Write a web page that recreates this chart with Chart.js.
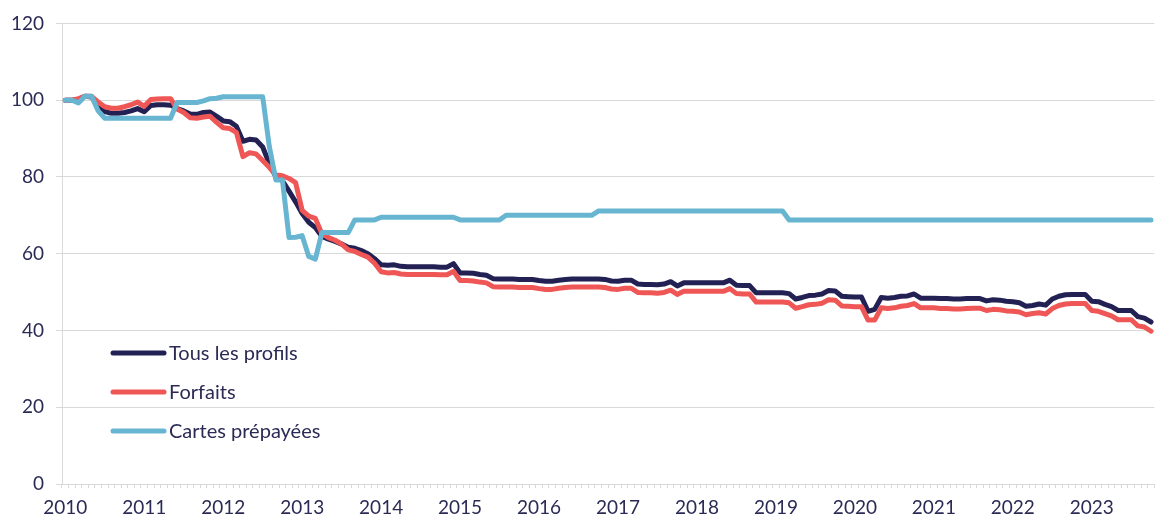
<!DOCTYPE html>
<html>
<head>
<meta charset="utf-8">
<script src="https://cdn.jsdelivr.net/npm/chart.js@4/dist/chart.umd.min.js"></script>
<style>
body { margin: 0; background: #fff; }
#wrap { width: 1159px; height: 520px; }
</style>
</head>
<body>
<div id="wrap"><canvas id="chart"></canvas></div>
<script>
const years = [2010, 2011, 2012, 2013, 2014, 2015, 2016, 2017, 2018, 2019, 2020, 2021, 2022, 2023]
const lastMonth = 10
const seriesNames = ['Tous les profils', 'Forfaits', 'Cartes prépayées']

const tousProfils = [
    100, 100, 100.2, 101, 100.8, 98.5, 97, 96.6, 96.6, 96.8, 97.2, 97.8,
    97, 98.6, 98.8, 98.8, 98.7, 97.8, 97.2, 96.4, 96.3, 96.8, 96.9, 95.8,
    94.6, 94.4, 93.2, 89.3, 89.8, 89.6, 87.8, 83.5, 80, 79, 76.3, 73.5,
    70.5, 68.2, 66.8, 64.5, 63.8, 63.2, 62.5, 61.7, 61.4, 60.8, 60, 58.7,
    57.1, 57, 57.1, 56.7, 56.6, 56.6, 56.6, 56.6, 56.6, 56.5, 56.5, 57.4,
    55, 55, 54.9, 54.6, 54.4, 53.5, 53.4, 53.4, 53.4, 53.3, 53.3, 53.3,
    53, 52.8, 52.8, 53.1, 53.3, 53.4, 53.4, 53.4, 53.4, 53.4, 53.3, 52.9,
    52.8, 53.1, 53.1, 52.1, 52, 52, 51.9, 52.1, 52.7, 51.6, 52.4, 52.4,
    52.4, 52.4, 52.4, 52.4, 52.4, 53.1, 51.8, 51.7, 51.7, 49.8, 49.8, 49.8,
    49.8, 49.8, 49.6, 48.2, 48.6, 49.1, 49.2, 49.5, 50.4, 50.3, 48.9, 48.8,
    48.7, 48.7, 45, 45.5, 48.6, 48.4, 48.6, 48.9, 49, 49.5, 48.4, 48.4,
    48.4, 48.3, 48.3, 48.2, 48.2, 48.3, 48.3, 48.3, 47.7, 48, 47.9, 47.6,
    47.5, 47.2, 46.3, 46.5, 46.9, 46.6, 48.2, 48.9, 49.3, 49.4, 49.4, 49.4,
    47.6, 47.5, 46.8, 46.2, 45.2, 45.2, 45.2, 43.6, 43.2, 42.2
]

const forfaits = [
    100, 100, 100.4, 101, 101, 99.5, 98.3, 97.9, 97.9, 98.3, 98.8, 99.5,
    98.4, 100.2, 100.3, 100.4, 100.4, 97.7, 96.8, 95.4, 95.3, 95.6, 95.8, 94.2,
    92.8, 92.6, 91.6, 85.3, 86.3, 86, 84.3, 82.5, 80.5, 80.3, 79.6, 78.5,
    71.3, 69.8, 69.2, 65.2, 64.2, 63.5, 62.5, 61, 60.6, 59.8, 59.1, 57.5,
    55.3, 55, 55.1, 54.7, 54.6, 54.6, 54.6, 54.6, 54.6, 54.5, 54.5, 55.4,
    53, 53, 52.9, 52.6, 52.4, 51.4, 51.3, 51.3, 51.3, 51.2, 51.2, 51.2,
    50.9, 50.7, 50.7, 51, 51.2, 51.3, 51.3, 51.3, 51.3, 51.3, 51.2, 50.8,
    50.7, 51, 51, 49.9, 49.8, 49.8, 49.7, 49.9, 50.5, 49.4, 50.2, 50.2,
    50.2, 50.2, 50.2, 50.2, 50.2, 50.9, 49.6, 49.5, 49.5, 47.4, 47.4, 47.4,
    47.4, 47.4, 47.2, 45.8, 46.2, 46.7, 46.8, 47.1, 48, 47.9, 46.4, 46.3,
    46.2, 46.2, 42.7, 42.7, 45.9, 45.7, 45.9, 46.3, 46.5, 47, 45.9, 45.9,
    45.9, 45.7, 45.7, 45.6, 45.6, 45.7, 45.8, 45.8, 45.2, 45.5, 45.4, 45.1,
    45, 44.8, 44.1, 44.4, 44.6, 44.3, 45.7, 46.5, 46.9, 47, 47, 47,
    45.2, 45, 44.4, 43.8, 42.8, 42.8, 42.8, 41.2, 40.9, 39.8
]

const cartesPrepayees = [
    100, 100, 99.3, 101, 101, 97.2, 95.3, 95.3, 95.3, 95.3, 95.3, 95.3,
    95.3, 95.3, 95.3, 95.3, 95.3, 99.4, 99.4, 99.4, 99.4, 99.8, 100.4, 100.5,
    100.9, 100.9, 100.9, 100.9, 100.9, 100.9, 100.9, 88, 79.2, 79.2, 64.2, 64.3,
    64.7, 59.3, 58.6, 65.5, 65.5, 65.5, 65.5, 65.5, 68.8, 68.8, 68.8, 68.8,
    69.5, 69.5, 69.5, 69.5, 69.5, 69.5, 69.5, 69.5, 69.5, 69.5, 69.5, 69.5,
    68.8, 68.8, 68.8, 68.8, 68.8, 68.8, 68.8, 70, 70, 70, 70, 70,
    70, 70, 70, 70, 70, 70, 70, 70, 70, 71.1, 71.1, 71.1,
    71.1, 71.1, 71.1, 71.1, 71.1, 71.1, 71.1, 71.1, 71.1, 71.1, 71.1, 71.1,
    71.1, 71.1, 71.1, 71.1, 71.1, 71.1, 71.1, 71.1, 71.1, 71.1, 71.1, 71.1,
    71.1, 71.1, 68.8, 68.8, 68.8, 68.8, 68.8, 68.8, 68.8, 68.8, 68.8, 68.8,
    68.8, 68.8, 68.8, 68.8, 68.8, 68.8, 68.8, 68.8, 68.8, 68.8, 68.8, 68.8,
    68.8, 68.8, 68.8, 68.8, 68.8, 68.8, 68.8, 68.8, 68.8, 68.8, 68.8, 68.8,
    68.8, 68.8, 68.8, 68.8, 68.8, 68.8, 68.8, 68.8, 68.8, 68.8, 68.8, 68.8,
    68.8, 68.8, 68.8, 68.8, 68.8, 68.8, 68.8, 68.8, 68.8, 68.8
]

const colors = ['#232154', '#ef5656', '#67b5d0']
const textColor = '#2b2a55'
const gridColor = '#d9d9d9'
const fontFamily = 'Lato, "Open Sans", sans-serif'

function monthLabels() {
    let labels = []
    for (let y of years) {
        for (let m = 1; m <= 12; m++) {
            if (y === years[years.length - 1] && m > lastMonth) break
            labels.push(y + '-' + String(m).padStart(2, '0'))
        }
    }
    return labels
}

function makeDataset(i, values, order) {
    return {
        label: seriesNames[i],
        data: values,
        borderColor: colors[i],
        backgroundColor: colors[i],
        borderWidth: 5,
        pointRadius: 0,
        tension: 0,
        borderJoinStyle: 'round',
        borderCapStyle: 'round',
        order: order
    }
}

// legend drawn inside the plot, lower left
const insideLegend = {
    id: 'insideLegend',
    afterDraw(chart) {
        let ctx = chart.ctx
        ctx.save()
        ctx.font = '20px ' + fontFamily
        ctx.textBaseline = 'middle'
        ctx.textAlign = 'left'
        chart.data.datasets.forEach((ds, i) => {
            let y = 353 + i * 39
            ctx.strokeStyle = ds.borderColor
            ctx.lineWidth = 5
            ctx.lineCap = 'round'
            ctx.beginPath()
            ctx.moveTo(113, y)
            ctx.lineTo(164, y)
            ctx.stroke()
            ctx.fillStyle = textColor
            ctx.fillText(ds.label, 169, y + 1)
        })
        ctx.restore()
    }
}

const data = {
    labels: monthLabels(),
    datasets: [
        makeDataset(0, tousProfils, 3),
        makeDataset(1, forfaits, 2),
        makeDataset(2, cartesPrepayees, 1)
    ]
}

const config = {
    type: 'line',
    data: data,
    options: {
        responsive: true,
        maintainAspectRatio: false,
        animation: false,
        layout: { padding: { top: 22, left: 0, right: 0, bottom: 0 } },
        plugins: {
            legend: { display: false },
            tooltip: { enabled: false }
        },
        scales: {
            x: {
                type: 'category',
                offset: true,
                afterFit(scale) { scale.height = 36 },
                grid: {
                    display: true,
                    offset: true,
                    drawOnChartArea: false,
                    drawTicks: true,
                    tickLength: 4,
                    color: gridColor
                },
                border: { display: true, color: gridColor },
                ticks: {
                    autoSkip: false,
                    maxRotation: 0,
                    minRotation: 0,
                    padding: 8,
                    color: textColor,
                    font: { family: fontFamily, size: 19 },
                    callback: function(value) {
                        let lab = this.getLabelForValue(value)
                        return lab.endsWith('-01') ? lab.slice(0, 4) : ''
                    }
                }
            },
            y: {
                min: 0,
                max: 120,
                afterFit(scale) { scale.width = 62 },
                grid: {
                    color: gridColor,
                    tickLength: 6,
                    drawTicks: true
                },
                border: { display: true, color: gridColor },
                ticks: {
                    stepSize: 20,
                    padding: 12,
                    color: textColor,
                    font: { family: fontFamily, size: 19 }
                }
            }
        }
    },
    plugins: [insideLegend]
}

let ctx = document.getElementById('chart').getContext('2d')
new Chart(ctx, config)
</script>
</body>
</html>
